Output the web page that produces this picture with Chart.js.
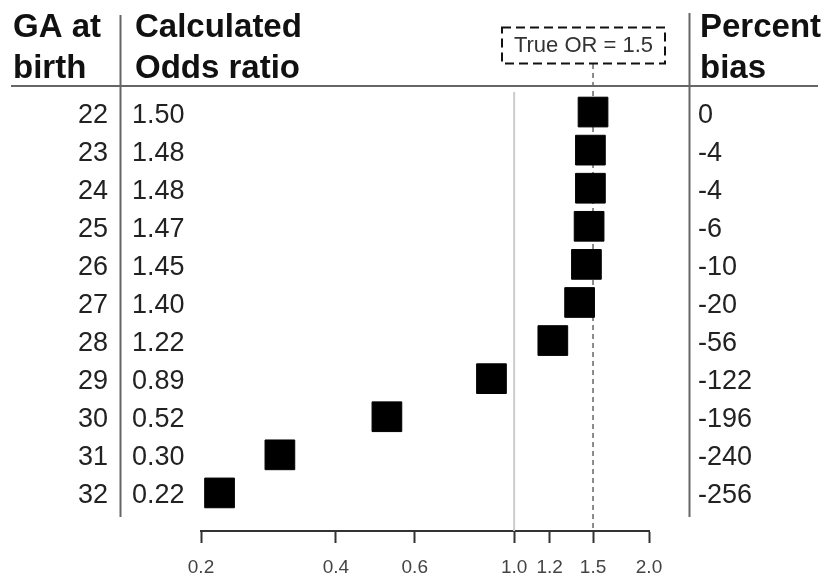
<!DOCTYPE html>
<html>
<head>
<meta charset="utf-8">
<script src="https://cdn.jsdelivr.net/npm/chart.js@4.4.1/dist/chart.umd.min.js"></script>
<style>
  html, body { margin: 0; padding: 0; background: #ffffff; }
  #wrap { width: 828px; height: 578px; position: relative; }
</style>
</head>
<body>
<div id="wrap"><canvas id="forest" width="828" height="578"></canvas></div>
<script>
// Gestational age at birth (weeks)
const gaWeeks = [22, 23, 24, 25, 26, 27, 28, 29, 30, 31, 32];
// Calculated odds ratio per GA cutoff
const oddsRatios = [1.50, 1.48, 1.48, 1.47, 1.45, 1.40, 1.22, 0.89, 0.52, 0.30, 0.22];
// Percent bias relative to the true OR
const percentBias = [0, -4, -4, -6, -10, -20, -56, -122, -196, -240, -256];
// Log-axis tick values
const axisTicks = [0.2, 0.4, 0.6, 1.0, 1.2, 1.5, 2.0];
const trueOR = 1.5;
const nullOR = 1.0;

const points = oddsRatios.map((v, i) => ({ x: v, y: i }));

const FONT = '"Liberation Sans", Arial, Helvetica, sans-serif';

const tablePlugin = {
  id: 'forestTable',
  beforeDatasetsDraw(chart) {
    const ctx = chart.ctx;
    const xs = chart.scales.x;
    const area = chart.chartArea;
    ctx.save();
    // reference line at OR = 1
    const x1 = xs.getPixelForValue(nullOR);
    ctx.strokeStyle = '#cccccc';
    ctx.lineWidth = 2;
    ctx.beginPath();
    ctx.moveTo(x1, area.top - 1);
    ctx.lineTo(x1, area.bottom);
    ctx.stroke();
    // dashed line at the true OR
    const xt = xs.getPixelForValue(trueOR);
    ctx.strokeStyle = '#666666';
    ctx.lineWidth = 1.5;
    ctx.setLineDash([5, 4]);
    ctx.beginPath();
    ctx.moveTo(xt, 64);
    ctx.lineTo(xt, area.bottom);
    ctx.stroke();
    ctx.restore();
  },
  afterDraw(chart) {
    const ctx = chart.ctx;
    const ys = chart.scales.y;
    ctx.save();

    // column separators and header rule
    ctx.strokeStyle = '#666666';
    ctx.lineWidth = 2;
    ctx.beginPath();
    ctx.moveTo(11, 86); ctx.lineTo(818, 86);
    ctx.moveTo(120.5, 15); ctx.lineTo(120.5, 517);
    ctx.moveTo(689.5, 13); ctx.lineTo(689.5, 517);
    ctx.stroke();

    // headers
    ctx.fillStyle = '#111111';
    ctx.font = 'bold 33px ' + FONT;
    ctx.textAlign = 'left';
    ctx.textBaseline = 'alphabetic';
    ctx.fillText('GA at', 13, 37);
    ctx.fillText('birth', 13, 78);
    ctx.fillText('Calculated', 135, 37);
    ctx.fillText('Odds ratio', 135, 78);
    ctx.fillText('Percent', 700, 37);
    ctx.fillText('bias', 700, 78);

    // true OR box
    ctx.strokeStyle = '#111111';
    ctx.lineWidth = 2;
    ctx.setLineDash([9, 5]);
    ctx.strokeRect(502, 27.5, 163, 36);
    ctx.setLineDash([]);
    ctx.fillStyle = '#333333';
    ctx.font = '22px ' + FONT;
    ctx.textAlign = 'center';
    ctx.textBaseline = 'middle';
    ctx.fillText('True OR = ' + trueOR.toFixed(1), 583.5, 46);

    // table rows
    ctx.fillStyle = '#222222';
    ctx.font = '27px ' + FONT;
    ctx.textBaseline = 'alphabetic';
    gaWeeks.forEach((ga, i) => {
      const y = ys.getPixelForValue(i) + 10.5;
      ctx.textAlign = 'right';
      ctx.fillText(String(ga), 108, y);
      ctx.textAlign = 'left';
      ctx.fillText(oddsRatios[i].toFixed(2), 132, y);
      ctx.fillText(String(percentBias[i]), 698, y);
    });
    ctx.restore();
  }
};

new Chart(document.getElementById('forest'), {
  type: 'scatter',
  data: {
    datasets: [{
      data: points,
      pointStyle: 'rect',
      pointRadius: 21,
      pointHoverRadius: 21,
      backgroundColor: '#000000',
      borderColor: '#000000',
      borderWidth: 1,
      clip: false
    }]
  },
  options: {
    responsive: false,
    animation: false,
    events: [],
    layout: { padding: { left: 201, right: 179, top: 93, bottom: 0 } },
    plugins: { legend: { display: false }, tooltip: { enabled: false } },
    scales: {
      x: {
        type: 'logarithmic',
        min: 0.2,
        max: 2.0,
        afterBuildTicks: (scale) => { scale.ticks = axisTicks.map(v => ({ value: v })); },
        afterFit: (scale) => { scale.height = 47; },
        ticks: {
          autoSkip: false,
          maxRotation: 0,
          padding: 13,
          color: '#444444',
          font: { family: FONT, size: 19 },
          callback: (v) => Number(v).toFixed(1)
        },
        grid: {
          drawOnChartArea: false,
          drawTicks: true,
          tickLength: 12,
          tickColor: '#333333',
          tickWidth: 2
        },
        border: { display: true, color: '#333333', width: 2 }
      },
      y: {
        type: 'linear',
        display: false,
        reverse: true,
        min: -0.5,
        max: 11
      }
    }
  },
  plugins: [tablePlugin]
});
</script>
</body>
</html>
